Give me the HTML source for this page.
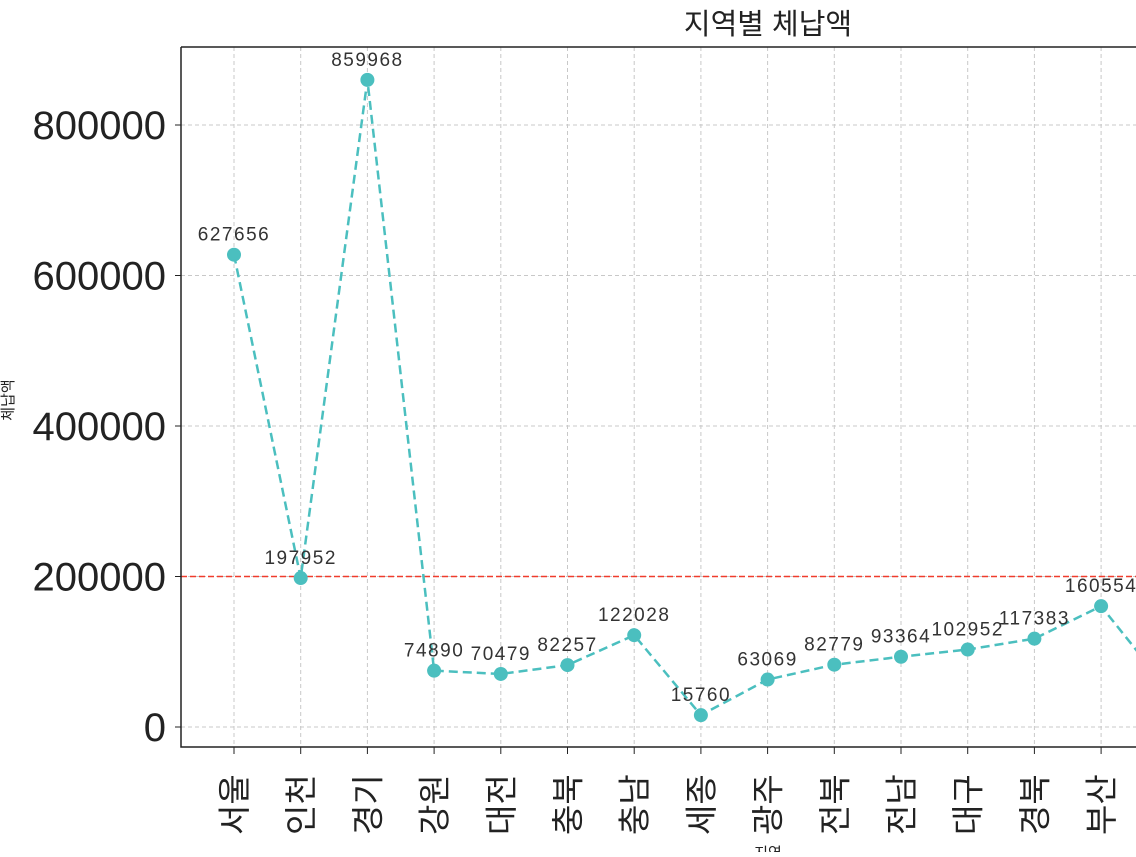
<!DOCTYPE html>
<html><head><meta charset="utf-8">
<style>
body{margin:0;background:#fff;overflow:hidden}
svg{font-family:"Liberation Sans","Noto Sans CJK KR",sans-serif}
</style></head>
<body>
<svg id="chart" width="1136" height="852" xmlns="http://www.w3.org/2000/svg"></svg>
<script>
const categories=["서울","인천","경기","강원","대전","충북","충남","세종","광주","전북","전남","대구","경북","부산","울산"];
const values=[627656,197952,859968,74890,70479,82257,122028,15760,63069,82779,93364,102952,117383,160554,50000];
const yTicks=[0,200000,400000,600000,800000];
const refValue=200000;

const svg=document.getElementById('chart');
const NS='http://www.w3.org/2000/svg';
const L=181,T=47,B=747;
const xs=i=>234+i*66.7;
const ys=v=>727-v*(602/800000);
function mk(tag,attrs,parent){const e=document.createElementNS(NS,tag);for(const k in attrs)e.setAttribute(k,attrs[k]);(parent||svg).appendChild(e);return e;}

yTicks.forEach(t=>{
  const g=mk('line',{x1:L,x2:1136,y1:ys(t),y2:ys(t),stroke:'#c8c8c8','stroke-dasharray':'4,3','stroke-width':1});
  
  
  const tk=mk('line',{x1:L-6,x2:L,y1:ys(t),y2:ys(t),stroke:'#222'});
  
  
  const lb=mk('text',{x:L-15,y:ys(t)+14,'text-anchor':'end','font-size':40,fill:'#222'});
  lb.textContent=t;
  
  
});
categories.forEach((c,i)=>{
  const g=mk('line',{x1:xs(i),x2:xs(i),y1:T,y2:B,stroke:'#c8c8c8','stroke-dasharray':'4,3','stroke-width':1});
  
  
  const tk=mk('line',{x1:xs(i),x2:xs(i),y1:B,y2:B+7,stroke:'#222'});
  
  
  const lb=mk('text',{x:0,y:0,'font-size':33,fill:'#222',transform:`translate(${xs(i)+12},835) rotate(-90)`});
  lb.textContent=c;
  
  
});
const ref=mk('line',{x1:L,x2:1136,y1:ys(refValue),y2:ys(refValue),stroke:'#f03c2c','stroke-dasharray':'6,3','stroke-width':1.5});


const line=mk('polyline',{points:values.map((v,i)=>xs(i)+','+ys(v)).join(' '),fill:'none',stroke:'#4bbfbf','stroke-width':2.5,'stroke-dasharray':'9,5'});


values.forEach((v,i)=>{
  const p=mk('circle',{cx:xs(i),cy:ys(v),r:7,fill:'#4bbfbf'});
  
  
  const t=mk('text',{x:xs(i),y:ys(v)-14,'text-anchor':'middle','font-size':19,'letter-spacing':1.5,fill:'#333'});
  t.textContent=v;
  
  
});
const ax=mk('path',{d:`M${L},${T} L${L},${B} L1136,${B} M${L},${T} L1136,${T}`,fill:'none',stroke:'#222','stroke-width':1.5});


const title=mk('text',{x:768,y:34,'text-anchor':'middle','font-size':29,fill:'#222'});
title.textContent='지역별 체납액';


const yl=mk('text',{x:0,y:0,'text-anchor':'middle','font-size':15,fill:'#222',transform:'translate(13,400) rotate(-90)'});
yl.textContent='체납액';


const xl=mk('text',{x:768,y:858,'text-anchor':'middle','font-size':15,fill:'#222'});
xl.textContent='지역';


</script>
</body></html>
